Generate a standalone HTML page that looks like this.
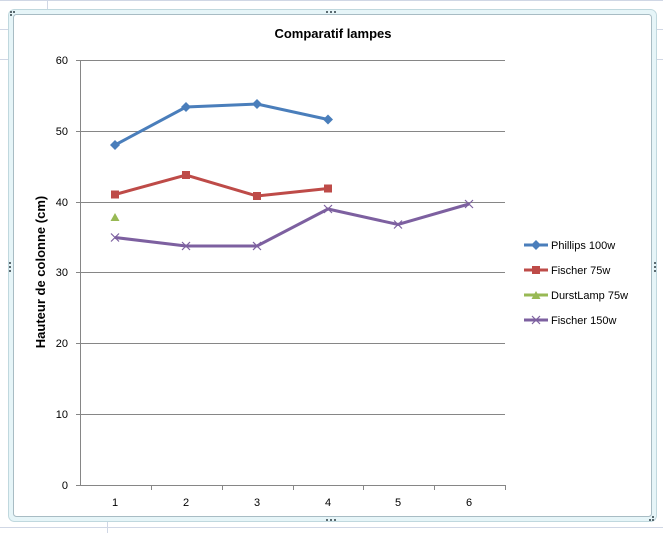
<!DOCTYPE html>
<html><head><style>
body{margin:0;width:663px;height:533px;overflow:hidden;background:#fff;font-family:"Liberation Sans",sans-serif}
</style></head><body>
<svg width="663" height="533" xmlns="http://www.w3.org/2000/svg" font-family="Liberation Sans, sans-serif">
<g stroke="#d0d7e5" stroke-width="1">
<line x1="0" y1="0.5" x2="663" y2="0.5"/>
<line x1="0" y1="527.5" x2="663" y2="527.5"/>
<line x1="47.5" y1="0" x2="47.5" y2="10"/>
<line x1="107.5" y1="522" x2="107.5" y2="533"/>
<line x1="0" y1="29.5" x2="8" y2="29.5"/><line x1="0" y1="59.5" x2="8" y2="59.5"/>
<line x1="655" y1="29.5" x2="663" y2="29.5"/><line x1="655" y1="59.5" x2="663" y2="59.5"/>
</g>
<rect x="8.5" y="9.5" width="648" height="512" rx="6" fill="#e6f5f8" stroke="#c0d8de"/>
<rect x="13.5" y="14.5" width="638" height="502" rx="3" fill="#fff" stroke="#a8bcc4"/>
<text x="333" y="38" font-size="13" font-weight="bold" text-anchor="middle">Comparatif lampes</text>
<g stroke="#868686" stroke-width="1">
<line x1="80" y1="60.5" x2="505" y2="60.5"/>
<line x1="80" y1="131.5" x2="505" y2="131.5"/>
<line x1="80" y1="202.5" x2="505" y2="202.5"/>
<line x1="80" y1="272.5" x2="505" y2="272.5"/>
<line x1="80" y1="343.5" x2="505" y2="343.5"/>
<line x1="80" y1="414.5" x2="505" y2="414.5"/>
<line x1="80.5" y1="60" x2="80.5" y2="485"/>
<line x1="76" y1="485.5" x2="505" y2="485.5"/>
<g>
<line x1="76" y1="60.5" x2="80" y2="60.5"/><line x1="76" y1="131.5" x2="80" y2="131.5"/><line x1="76" y1="202.5" x2="80" y2="202.5"/><line x1="76" y1="272.5" x2="80" y2="272.5"/><line x1="76" y1="343.5" x2="80" y2="343.5"/><line x1="76" y1="414.5" x2="80" y2="414.5"/>
<line x1="151.5" y1="485" x2="151.5" y2="490"/><line x1="222.5" y1="485" x2="222.5" y2="490"/><line x1="293.5" y1="485" x2="293.5" y2="490"/><line x1="363.5" y1="485" x2="363.5" y2="490"/><line x1="434.5" y1="485" x2="434.5" y2="490"/><line x1="505.5" y1="485" x2="505.5" y2="490"/>
</g></g>
<g font-size="11" text-anchor="end">
<text x="68" y="64">60</text><text x="68" y="135">50</text><text x="68" y="206">40</text><text x="68" y="276">30</text><text x="68" y="347">20</text><text x="68" y="418">10</text><text x="68" y="489">0</text>
</g>
<g font-size="11" text-anchor="middle">
<text x="115" y="506">1</text><text x="186" y="506">2</text><text x="257" y="506">3</text><text x="328" y="506">4</text><text x="398" y="506">5</text><text x="469" y="506">6</text>
</g>
<text transform="translate(45,272) rotate(-90)" font-size="13" font-weight="bold" text-anchor="middle">Hauteur de colonne (cm)</text>
<polyline points="115,145 186,107 257,104 328,119.5" fill="none" stroke="#4a7ebb" stroke-width="3"/>
<g fill="#4a7ebb">
<path d="M115,140 l5,5 l-5,5 l-5,-5z"/><path d="M186,102 l5,5 l-5,5 l-5,-5z"/><path d="M257,99 l5,5 l-5,5 l-5,-5z"/><path d="M328,114.5 l5,5 l-5,5 l-5,-5z"/>
</g>
<polyline points="115,194.5 186,175 257,196 328,188.5" fill="none" stroke="#be4b48" stroke-width="3"/>
<g fill="#be4b48">
<rect x="111" y="190.5" width="8" height="8"/><rect x="182" y="171" width="8" height="8"/><rect x="253" y="192" width="8" height="8"/><rect x="324" y="184.5" width="8" height="8"/>
</g>
<path d="M115,213 l4.5,8 h-9z" fill="#98b954"/>
<polyline points="115,237.5 186,246 257,246 328,209 398,224.5 469,204" fill="none" stroke="#7d60a0" stroke-width="3"/>
<g stroke="#7d60a0" stroke-width="1.2">
<path d="M111,233.5l8,8M119,233.5l-8,8"/><path d="M182,242l8,8M190,242l-8,8"/><path d="M253,242l8,8M261,242l-8,8"/><path d="M324,205l8,8M332,205l-8,8"/><path d="M394,220.5l8,8M402,220.5l-8,8"/><path d="M465,200l8,8M473,200l-8,8"/>
</g>
<g font-size="11">
<line x1="524" y1="245" x2="548" y2="245" stroke="#4a7ebb" stroke-width="3"/><path d="M536,240 l5,5 l-5,5 l-5,-5z" fill="#4a7ebb"/><text x="551" y="249">Phillips 100w</text>
<line x1="524" y1="270" x2="548" y2="270" stroke="#be4b48" stroke-width="3"/><rect x="532" y="266" width="8" height="8" fill="#be4b48"/><text x="551" y="274">Fischer 75w</text>
<line x1="524" y1="295" x2="548" y2="295" stroke="#98b954" stroke-width="3"/><path d="M536,291 l4.5,8 h-9z" fill="#98b954"/><text x="551" y="299">DurstLamp 75w</text>
<line x1="524" y1="320" x2="548" y2="320" stroke="#7d60a0" stroke-width="3"/><path d="M532,316l8,8M540,316l-8,8" stroke="#7d60a0" stroke-width="1.2"/><text x="551" y="324">Fischer 150w</text>
</g>
<g fill="#5a6a70">
<rect x="10" y="11" width="2" height="2"/><rect x="13" y="11" width="2" height="2"/><rect x="10" y="14" width="2" height="2"/>
<rect x="326" y="11" width="2" height="2"/><rect x="330" y="11" width="2" height="2"/><rect x="334" y="11" width="2" height="2"/>
<rect x="326" y="519" width="2" height="2"/><rect x="330" y="519" width="2" height="2"/><rect x="334" y="519" width="2" height="2"/>
<rect x="9" y="262" width="2" height="2"/><rect x="9" y="266" width="2" height="2"/><rect x="9" y="270" width="2" height="2"/>
<rect x="654" y="262" width="2" height="2"/><rect x="654" y="266" width="2" height="2"/><rect x="654" y="270" width="2" height="2"/>
<rect x="652" y="519" width="2" height="2"/><rect x="649" y="519" width="2" height="2"/><rect x="652" y="516" width="2" height="2"/>
</g>
</svg>
</body></html>
